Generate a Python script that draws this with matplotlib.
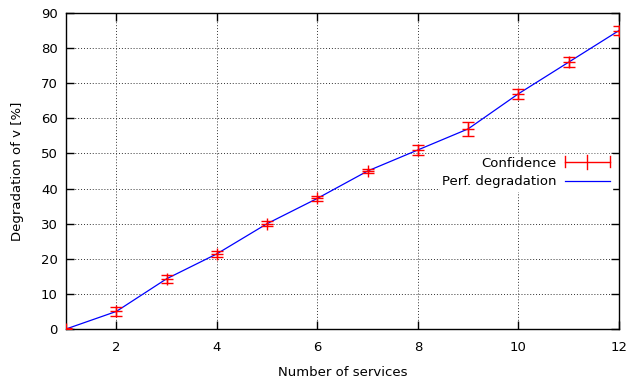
import matplotlib
matplotlib.use("Agg")
import matplotlib.pyplot as plt
from matplotlib.legend_handler import HandlerBase
from matplotlib.lines import Line2D

services = [1, 2, 3, 4, 5, 6, 7, 8, 9, 10, 11, 12]
degradation = [0, 5, 14.3, 21.4, 30, 37.2, 45, 51, 57, 67, 76, 85]
conf = [0.3, 1.2, 1.1, 0.9, 0.8, 0.6, 0.6, 1.5, 2.0, 1.5, 1.5, 1.2]


class ErrHandler(HandlerBase):
    def create_artists(self, legend, orig, xd, yd, w, h, fs, trans):
        y = h / 2 - yd
        x0, x1 = -xd, w - xd
        xm = (x0 + x1) / 2
        kw = dict(color="red", lw=1, transform=trans)
        return [
            Line2D([x0, x1], [y, y], **kw),
            Line2D([x0, x0], [y - 4, y + 4], **kw),
            Line2D([x1, x1], [y - 4, y + 4], **kw),
            Line2D([xm, xm], [y - 5, y + 5], **kw),
        ]


plt.rcParams["font.family"] = "DejaVu Sans"
plt.rcParams["font.size"] = 9.5

fig = plt.figure(figsize=(6.29, 3.83), dpi=100)
ax = fig.add_axes([0.105, 0.141, 0.879, 0.825])

line, = ax.plot(services, degradation, color="blue", lw=0.9, zorder=3)
eb = ax.errorbar(services, degradation, yerr=conf, fmt="+", color="red",
                 ms=9, mew=1, elinewidth=1, capsize=4, capthick=1, zorder=4)

ax.set_xlim(1, 12)
ax.set_ylim(0, 90)
ax.set_xticks([2, 4, 6, 8, 10, 12])
ax.set_yticks(range(0, 91, 10))
ax.tick_params(direction="in", top=True, right=True, length=6, width=1)
ax.tick_params(axis="x", pad=9)
ax.tick_params(axis="y", pad=6)
ax.grid(True, color="#333333", linestyle=(0, (1, 2)), lw=0.7)
for s in ax.spines.values():
    s.set_linewidth(1)

ax.set_xlabel("Number of services", labelpad=8)
ax.set_ylabel("Degradation of v [%]", labelpad=12)

leg = ax.legend([eb, line], ["Confidence", "Perf. degradation"],
                handler_map={type(eb): ErrHandler()},
                loc="upper right", bbox_to_anchor=(1.0, 0.575),
                frameon=True, fancybox=False, framealpha=1,
                edgecolor="white", markerfirst=False, handlelength=3.4,
                handletextpad=0.6, borderpad=0.2, labelspacing=0.45)
leg.set_zorder(5)

fig.savefig("out.png", dpi=100)
